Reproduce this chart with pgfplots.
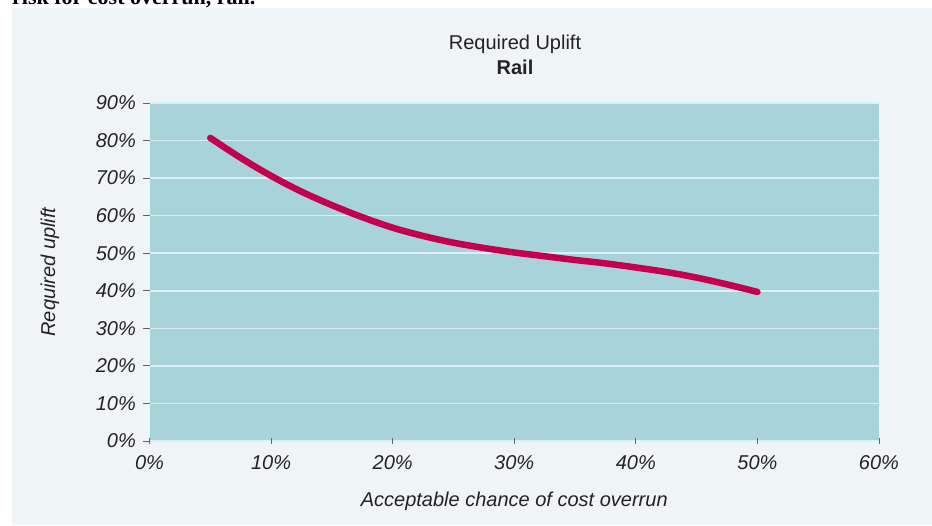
\documentclass[border=0pt]{standalone}
\usepackage{fontspec}
\setmainfont{Liberation Sans}
\newfontfamily\headserif{Liberation Serif}
\usepackage{pgfplots}
\pgfplotsset{compat=1.18}

\definecolor{panel}{RGB}{239,244,247}
\definecolor{plotbg}{RGB}{168,211,218}
\definecolor{gridcol}{RGB}{218,240,244}
\definecolor{curvecol}{RGB}{196,0,78}
\definecolor{tickcol}{RGB}{100,100,100}
\definecolor{textcol}{RGB}{35,35,35}

\begin{document}
\begin{tikzpicture}
\useasboundingbox (0pt,0pt) rectangle (932pt,525pt);
% light panel behind the chart
\fill[panel] (12pt,0pt) rectangle (932pt,517pt);
% caption line running off the top of the page
\node[anchor=base west, inner sep=0pt, text=black,
      font=\headserif\bfseries\fontsize{22}{26}\selectfont] at (12pt,520pt)
      {risk for cost overrun, rail.};

\begin{axis}[
  at={(149.5pt,84pt)}, anchor=south west,
  scale only axis, width=729.5pt, height=338pt,
  xmin=0, xmax=60, ymin=0, ymax=90,
  xtick={0,10,...,60}, ytick={0,10,...,90},
  axis background/.style={fill=plotbg},
  axis line style={draw=none},
  ymajorgrids, grid style={draw=gridcol, line width=1.6pt},
  tick style={draw=tickcol, line width=0.8pt},
  major tick length=6.5pt,
  xtick pos=bottom, ytick pos=left,
  xtick align=center, ytick align=outside,
  /pgf/number format/assume math mode=true,
  tick label style={font=\fontsize{20}{24}\selectfont\itshape, text=textcol},
  xticklabel={\pgfmathprintnumber{\tick}\%},
  yticklabel={\pgfmathprintnumber{\tick}\%},
  xticklabel style={anchor=north, inner sep=0pt, yshift=-11pt},
  yticklabel style={anchor=east, inner sep=0pt, xshift=-7pt},
  label style={font=\fontsize{20}{24}\selectfont\itshape, text=textcol},
  xlabel={Acceptable chance of cost overrun},
  ylabel={Required uplift},
  xlabel style={at={(axis description cs:0.5,-0.1775)}, anchor=center},
  ylabel style={at={(axis description cs:-0.1364,0.5)}, anchor=center},
]
\addplot[curvecol, line width=6.5pt, line cap=round, line join=round, smooth, tension=0.6]
  coordinates {
    (5,80.7) (7.5,75.4) (10,70.6) (12.5,66.4) (15,62.8) (17.5,59.6)
    (20,56.8) (22.5,54.6) (25,52.8) (27.5,51.4) (30,50.2) (32.5,49.2)
    (35,48.2) (37.5,47.3) (40,46.2) (42.5,45.0) (45,43.5) (47.5,41.7) (50,39.7)
  };
\end{axis}

% chart heading
\node[anchor=base, inner sep=0pt, text=textcol, font=\fontsize{20}{24}\selectfont]
  at (515pt,475.5pt) {Required Uplift};
\node[anchor=base, inner sep=0pt, text=textcol, font=\fontsize{20}{24}\selectfont\bfseries]
  at (515pt,450pt) {Rail};
\end{tikzpicture}
\end{document}
